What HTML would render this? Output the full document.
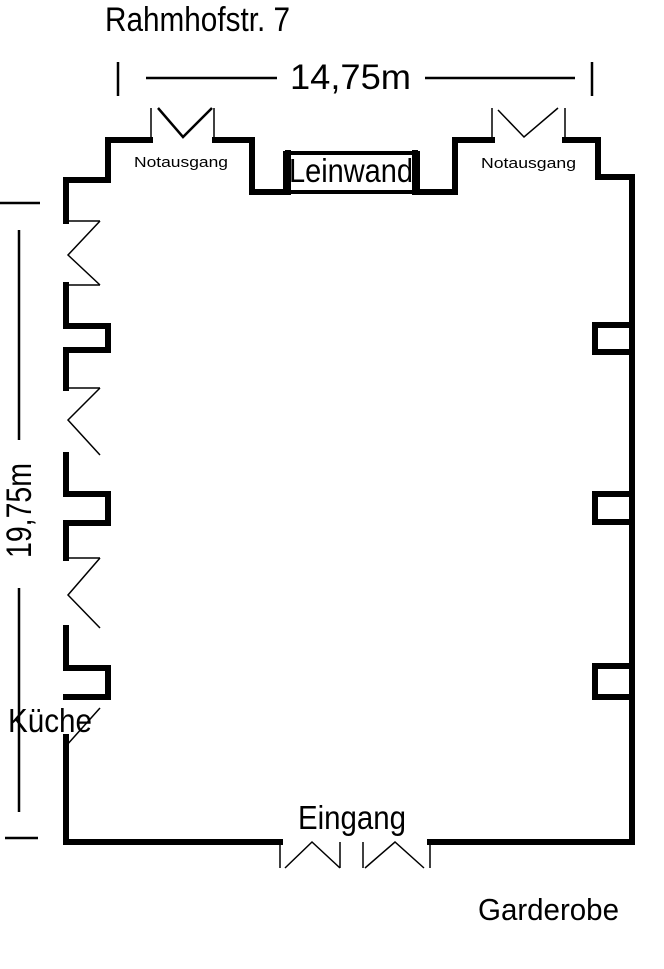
<!DOCTYPE html>
<html><head><meta charset="utf-8"><style>
html,body{margin:0;padding:0;background:#fff;}
svg{display:block;}
text{font-family:"Liberation Sans",sans-serif;fill:#000;}
</style></head><body>
<svg width="664" height="969" viewBox="0 0 664 969" xmlns="http://www.w3.org/2000/svg">
<g fill="none" stroke="#000" stroke-width="6" stroke-linejoin="miter" stroke-linecap="square">
<polyline points="66,221 66,180 108,180 108,140 150,140"/>
<polyline points="215,140 252,140 252,192 285,192"/>
<polyline points="418,192 455,192 455,140 492,140"/>
<polyline points="565,140 598,140 598,177 632,177 632,842 430,842"/>
<polyline points="280,842 66,842 66,737"/>
<polyline points="66,285 66,326 108,326 108,350 66,350 66,388"/>
<polyline points="66,455 66,494 108,494 108,523 66,523 66,558"/>
<polyline points="66,628 66,668 108,668 108,697 66,697"/>
<polyline points="632,325 595,325 595,352 632,352"/>
<polyline points="632,494 595,494 595,522 632,522"/>
<polyline points="632,666 595,666 595,697 632,697"/>
</g>
<rect x="285" y="153" width="133" height="39" fill="none" stroke="#000" stroke-width="4"/>
<rect x="285" y="150" width="6" height="45" fill="#000"/>
<rect x="412" y="150" width="6" height="45" fill="#000"/>
<g fill="none" stroke="#000" stroke-width="1.5">
<line x1="151" y1="108" x2="151" y2="140"/><line x1="214" y1="108" x2="214" y2="140"/>
<polyline points="158,108 183,137 212,108" stroke-width="2.5"/>
<line x1="492" y1="108" x2="492" y2="140"/><line x1="565" y1="108" x2="565" y2="140"/>
<polyline points="498,110 524,137 558,108"/>
<line x1="66" y1="221" x2="100" y2="221"/><polyline points="100,221 68,255 100,285"/><line x1="68" y1="285" x2="100" y2="285"/>
<line x1="66" y1="388" x2="100" y2="388"/><polyline points="100,388 68,420 100,455"/>
<line x1="66" y1="558" x2="100" y2="558"/><polyline points="100,558 68,595 100,628"/>
<line x1="66" y1="746" x2="100" y2="708"/>
<line x1="280" y1="842" x2="280" y2="868"/><line x1="340" y1="842" x2="340" y2="868"/><line x1="363" y1="842" x2="363" y2="868"/><line x1="430" y1="842" x2="430" y2="868"/>
<polyline points="285,868 312,842 340,868"/><polyline points="365,868 395,842 424,868"/>
</g>
<g stroke="#000" stroke-width="2.5">
<line x1="118" y1="62" x2="118" y2="96"/><line x1="592" y1="62" x2="592" y2="96"/>
<line x1="146" y1="78" x2="277" y2="78"/><line x1="425" y1="78" x2="575" y2="78"/>
<line x1="0" y1="203" x2="40" y2="203"/><line x1="5" y1="838" x2="38" y2="838"/>
<line x1="19" y1="230" x2="19" y2="440"/><line x1="19" y1="588" x2="19" y2="812"/>
</g>
<text x="105" y="31" font-size="34" textLength="185" lengthAdjust="spacingAndGlyphs">Rahmhofstr. 7</text>
<text x="290" y="89" font-size="35" textLength="121" lengthAdjust="spacingAndGlyphs">14,75m</text>
<text x="134" y="167" font-size="15" textLength="94" lengthAdjust="spacingAndGlyphs">Notausgang</text>
<text x="481" y="168" font-size="15" textLength="95" lengthAdjust="spacingAndGlyphs">Notausgang</text>
<text x="289" y="182" font-size="33" textLength="124" lengthAdjust="spacingAndGlyphs">Leinwand</text>
<text transform="translate(31,558) rotate(-90)" font-size="35" textLength="95" lengthAdjust="spacingAndGlyphs">19,75m</text>
<text x="8" y="732" font-size="33" textLength="84" lengthAdjust="spacingAndGlyphs">Küche</text>
<text x="298" y="829" font-size="33" textLength="108" lengthAdjust="spacingAndGlyphs">Eingang</text>
<text x="478" y="920" font-size="31" textLength="141" lengthAdjust="spacingAndGlyphs">Garderobe</text>
</svg>
</body></html>
